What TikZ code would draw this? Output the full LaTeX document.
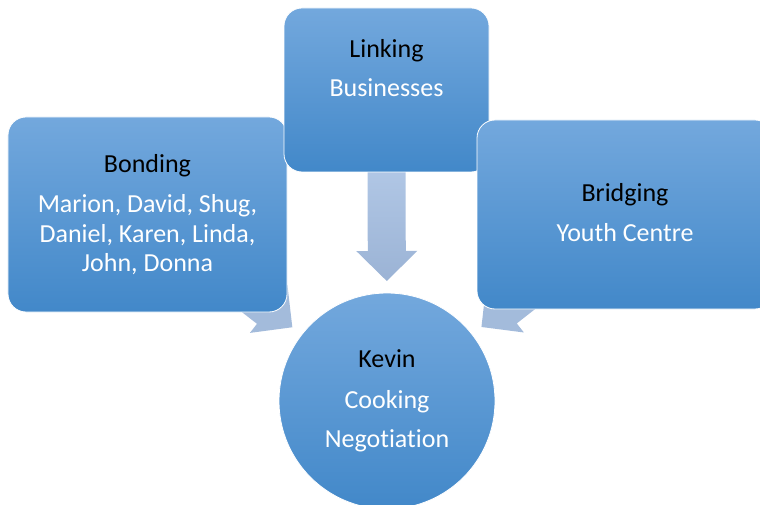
\documentclass[tikz,border=0pt]{standalone}
\usepackage{fontspec}
\setmainfont[Ligatures=NoCommon]{Carlito}
\usetikzlibrary{calc}
\definecolor{btop}{RGB}{115,168,221}
\definecolor{bmid}{RGB}{89,155,216}
\definecolor{bbot}{RGB}{66,136,201}
\definecolor{atop}{RGB}{192,213,241}
\definecolor{abot}{RGB}{155,179,213}
\definecolor{aside}{RGB}{163,187,219}
\begin{document}
\begin{tikzpicture}[x=1bp,y=-1bp,
  panel/.style={draw=white, line width=0.8bp, rounded corners=18bp,
    top color=btop, middle color=bmid, bottom color=bbot, inner sep=0pt},
  hub/.style={circle, draw=white, line width=0.8bp,
    top color=btop, middle color=bmid, bottom color=bbot, inner sep=0pt, minimum size=216bp},
  ttl/.style={anchor=base, inner sep=0pt, text=black, font=\fontsize{26bp}{30bp}\selectfont},
  txt/.style={anchor=base, inner sep=0pt, text=white, font=\fontsize{26bp}{30bp}\selectfont}
]
\useasboundingbox (0,0) rectangle (760,505);
\clip (0,0) rectangle (760,505);

% positions of the shapes (centres)
\coordinate (cbond) at (147.5,214.5);
\coordinate (clink) at (386.5,90);
\coordinate (cbridge) at (625,214.5);
\coordinate (ckevin) at (387,401);

% block arrows (behind shapes)
\foreach \src/\nm in {cbond/a1, clink/a2, cbridge/a3}{
  \coordinate (\nm tip) at ($(ckevin)!120bp!(\src)$);
  \coordinate (\nm base) at ($(\nm tip)!30bp!(\src)$);
}
\fill[aside]
  ($(cbond)!19bp!-90:(a1tip)$) -- ($(a1base)!19bp!-90:(a1tip)$) -- ($(a1base)!30.5bp!-90:(a1tip)$)
  -- (a1tip) -- ($(a1base)!30.5bp!90:(a1tip)$) -- ($(a1base)!19bp!90:(a1tip)$)
  -- ($(cbond)!19bp!90:(a1tip)$) -- cycle;
\shade[top color=atop, bottom color=abot]
  ($(clink)!19bp!-90:(a2tip)$) -- ($(a2base)!19bp!-90:(a2tip)$) -- ($(a2base)!30.5bp!-90:(a2tip)$)
  -- (a2tip) -- ($(a2base)!30.5bp!90:(a2tip)$) -- ($(a2base)!19bp!90:(a2tip)$)
  -- ($(clink)!19bp!90:(a2tip)$) -- cycle;
\fill[aside]
  ($(cbridge)!19bp!-90:(a3tip)$) -- ($(a3base)!19bp!-90:(a3tip)$) -- ($(a3base)!30.5bp!-90:(a3tip)$)
  -- (a3tip) -- ($(a3base)!30.5bp!90:(a3tip)$) -- ($(a3base)!19bp!90:(a3tip)$)
  -- ($(cbridge)!19bp!90:(a3tip)$) -- cycle;

% shapes
\node[panel, minimum width=279bp, minimum height=195bp] (bond) at (cbond) {};
\node[panel, minimum width=205bp, minimum height=164bp] (link) at (clink) {};
\node[panel, minimum width=296bp, minimum height=189bp] (bridge) at (cbridge) {};
\node[hub] (kevin) at (ckevin) {};

% texts
\node[ttl] (bondT) at (147.5,173) {Bonding};
\node[txt] (bond1) at (147.5,213) {Marion, David, Shug,};
\node[txt] (bond2) at (147.5,243) {Daniel, Karen, Linda,};
\node[txt] (bond3) at (147.5,272) {John, Donna};

\node[ttl] (linkT) at (386.5,58) {Linking};
\node[txt] (link1) at (386.5,97) {Businesses};

\node[ttl] (bridgeT) at (625,202) {Bridging};
\node[txt] (bridge1) at (625,242) {Youth Centre};

\node[ttl] (kevinT) at (387,367) {Kevin};
\node[txt] (kevin1) at (387,408) {Cooking};
\node[txt] (kevin2) at (387,447) {Negotiation};
\end{tikzpicture}
\end{document}
